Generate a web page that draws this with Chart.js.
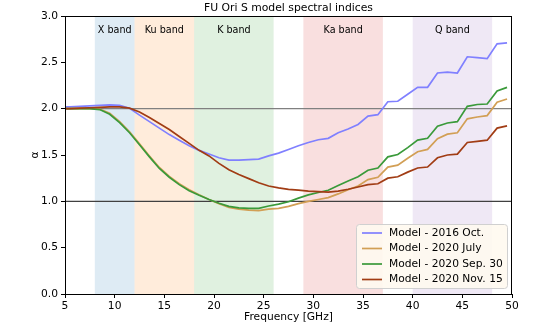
<!DOCTYPE html>
<html>
<head>
<meta charset="utf-8">
<script src="https://cdn.jsdelivr.net/npm/chart.js@4"></script>
<style>
  html, body { margin: 0; padding: 0; background: #fff; }
  #wrap { width: 545px; height: 327px; }
</style>
</head>
<body>
<div id="wrap"><canvas id="chart"></canvas></div>
<script>
// frequencies in GHz
var freqs = [5, 5.5, 6.5, 7.5, 8.5, 9.5, 10.5, 11.5, 12.5, 13.5, 14.5, 15.5, 16.5, 17.5, 18.5, 19.5,
  20.5, 21.5, 22.5, 23.5, 24.5, 25.5, 26.5, 27.5, 28.5, 29.5, 30.5, 31.5, 32.5, 33.5, 34.5,
  35.5, 36.5, 37.5, 38.5, 39.5, 40.5, 41.5, 42.5, 43.5, 44.5, 45.5, 46.5, 47.5, 48.5, 49.5];

var oct2016 = [2.02, 2.02, 2.025, 2.03, 2.035, 2.04, 2.035, 2.005, 1.93, 1.86, 1.79, 1.72, 1.66, 1.60, 1.55, 1.51,
  1.47, 1.445, 1.445, 1.45, 1.455, 1.49, 1.52, 1.56, 1.60, 1.635, 1.665, 1.68, 1.74, 1.78, 1.83,
  1.92, 1.935, 2.075, 2.08, 2.155, 2.23, 2.23, 2.385, 2.395, 2.385, 2.56, 2.55, 2.54, 2.70, 2.71];

var jul2020 = [2.0, 2.0, 2.0, 2.0, 1.995, 1.95, 1.86, 1.75, 1.62, 1.49, 1.365, 1.27, 1.19, 1.125, 1.07, 1.02,
  0.975, 0.935, 0.915, 0.905, 0.90, 0.915, 0.925, 0.945, 0.975, 1.0, 1.02, 1.04, 1.08, 1.125, 1.165,
  1.235, 1.26, 1.37, 1.39, 1.465, 1.535, 1.56, 1.675, 1.725, 1.74, 1.89, 1.91, 1.925, 2.07, 2.105];

var sep2020 = [2.0, 2.0, 2.0, 2.0, 1.99, 1.94, 1.85, 1.74, 1.61, 1.48, 1.355, 1.26, 1.18, 1.115, 1.065, 1.02,
  0.98, 0.945, 0.93, 0.925, 0.925, 0.95, 0.97, 0.995, 1.035, 1.07, 1.095, 1.12, 1.17, 1.22, 1.265,
  1.335, 1.36, 1.48, 1.505, 1.58, 1.66, 1.68, 1.81, 1.845, 1.86, 2.025, 2.045, 2.05, 2.19, 2.23];

var nov2020 = [2.0, 2.0, 2.005, 2.01, 2.015, 2.02, 2.02, 2.005, 1.965, 1.905, 1.84, 1.775, 1.70, 1.625, 1.55, 1.49,
  1.41, 1.34, 1.29, 1.245, 1.20, 1.165, 1.145, 1.13, 1.12, 1.11, 1.105, 1.10, 1.11, 1.13, 1.155,
  1.18, 1.19, 1.25, 1.265, 1.315, 1.36, 1.37, 1.47, 1.50, 1.51, 1.635, 1.648, 1.66, 1.79, 1.815];

var seriesNames = ["Model - 2016 Oct.", "Model - 2020 July", "Model - 2020 Sep. 30", "Model - 2020 Nov. 15"];
var seriesColors = ["#8080ff", "#d29f55", "#3a9a3a", "#a13c14"];

// observing bands [name, low GHz, high GHz]
var bandNames = ["X band", "Ku band", "K band", "Ka band", "Q band"];
var bandLow = [8, 12, 18, 29, 40];
var bandHigh = [12, 18, 26, 37, 48];
var bandColors = ["rgba(31,119,180,0.15)", "rgba(255,127,14,0.15)", "rgba(44,160,44,0.15)",
  "rgba(214,39,40,0.15)", "rgba(148,103,189,0.15)"];

var refLevels = [2.0, 1.0];
var refColors = ["#808080", "#404040"];

var FONT = "'DejaVu Sans', sans-serif";

function pts(vals) {
  return freqs.map(function (f, i) { return { x: f, y: vals[i] }; });
}

var allVals = [oct2016, jul2020, sep2020, nov2020];
var datasets = allVals.map(function (v, i) {
  return {
    label: seriesNames[i],
    data: pts(v),
    borderColor: seriesColors[i],
    backgroundColor: seriesColors[i],
    borderWidth: 1.7,
    pointRadius: 0,
    tension: 0,
    order: 3 - i
  };
});

var decorations = {
  id: 'decorations',
  beforeDatasetsDraw: function (chart) {
    var c = chart.ctx, a = chart.chartArea, xs = chart.scales.x, ys = chart.scales.y;
    c.save();
    for (var i = 0; i < bandNames.length; i++) {
      var x0 = xs.getPixelForValue(bandLow[i]), x1 = xs.getPixelForValue(bandHigh[i]);
      c.fillStyle = bandColors[i];
      c.fillRect(x0, a.top, x1 - x0, a.bottom - a.top);
      c.fillStyle = '#000';
      c.font = '9.6px ' + FONT;
      c.textAlign = 'center';
      c.textBaseline = 'middle';
      c.fillText(bandNames[i], (x0 + x1) / 2, ys.getPixelForValue(2.84));
    }
    for (var j = 0; j < refLevels.length; j++) {
      var yy = ys.getPixelForValue(refLevels[j]);
      c.strokeStyle = refColors[j];
      c.lineWidth = 1.4;
      c.beginPath();
      c.moveTo(a.left, yy);
      c.lineTo(a.right, yy);
      c.stroke();
    }
    c.restore();
  },
  afterDraw: function (chart) {
    var c = chart.ctx, a = chart.chartArea;
    c.save();
    // frame
    c.strokeStyle = '#000';
    c.lineWidth = 1;
    c.strokeRect(a.left + 0.5, a.top + 0.5, a.right - a.left - 1, a.bottom - a.top);
    // title and axis titles
    c.fillStyle = '#000';
    c.textAlign = 'center';
    c.textBaseline = 'middle';
    c.font = '10.8px ' + FONT;
    c.fillText('FU Ori S model spectral indices', (a.left + a.right) / 2, 8);
    c.font = '10.7px ' + FONT;
    c.fillText('Frequency [GHz]', (a.left + a.right) / 2, 317);
    c.translate(35, (a.top + a.bottom) / 2);
    c.rotate(-Math.PI / 2);
    c.fillText('\u03b1', 0, 0);
    c.restore();

    // legend
    c.save();
    var lx = 356, ly = 224, lw = 151, lh = 64;
    c.beginPath();
    c.roundRect(lx + 0.5, ly + 0.5, lw, lh, 3);
    c.fillStyle = 'rgba(255,250,240,0.92)';
    c.fill();
    c.strokeStyle = '#d0d0d0';
    c.lineWidth = 1;
    c.stroke();
    c.font = '10.7px ' + FONT;
    c.textAlign = 'left';
    c.textBaseline = 'middle';
    for (var k = 0; k < seriesNames.length; k++) {
      var yk = ly + 9 + k * 15.5;
      c.strokeStyle = seriesColors[k];
      c.lineWidth = 1.7;
      c.beginPath();
      c.moveTo(lx + 6, yk);
      c.lineTo(lx + 26, yk);
      c.stroke();
      c.fillStyle = '#000';
      c.fillText(seriesNames[k], lx + 33, yk);
    }
    c.restore();
  }
};

new Chart(document.getElementById('chart'), {
  type: 'line',
  data: { datasets: datasets },
  options: {
    responsive: true,
    maintainAspectRatio: false,
    animation: false,
    layout: { padding: { left: 0, right: 33, top: 16, bottom: 0 } },
    plugins: {
      legend: { display: false },
      title: { display: false },
      tooltip: { enabled: false }
    },
    scales: {
      x: {
        type: 'linear',
        min: 5,
        max: 50,
        afterFit: function (s) { s.height = 33; },
        grid: { drawOnChartArea: false, drawTicks: true, tickLength: 4, color: '#000' },
        border: { display: true, color: '#000' },
        ticks: { stepSize: 5, color: '#000', font: { family: FONT, size: 10.7 }, padding: 2, maxRotation: 0 }
      },
      y: {
        min: 0,
        max: 3,
        afterFit: function (s) { s.width = 65; },
        grid: { drawOnChartArea: false, drawTicks: true, tickLength: 4, color: '#000' },
        border: { display: true, color: '#000' },
        ticks: {
          stepSize: 0.5, color: '#000', font: { family: FONT, size: 10.7 }, padding: 3,
          callback: function (v) { return v.toFixed(1); }
        }
      }
    }
  },
  plugins: [decorations]
});
</script>
</body>
</html>
